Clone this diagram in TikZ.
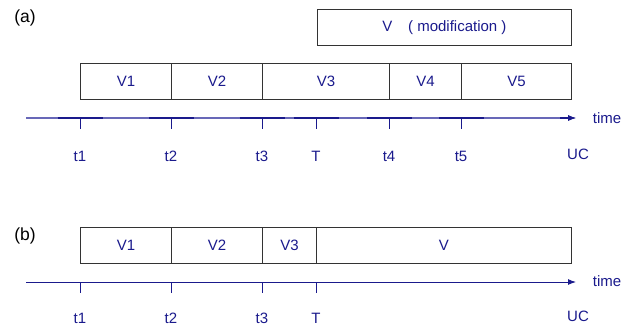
\documentclass[tikz,border=0pt]{standalone}
\usepackage{fontspec}
\setmainfont{Liberation Sans}
\usetikzlibrary{arrows.meta}
\definecolor{navy}{HTML}{1A1A8C}
\definecolor{lnavy}{HTML}{6868B8}
\definecolor{bord}{HTML}{333333}
\begin{document}
\begin{tikzpicture}[x=1pt,y=-1pt,
  seg/.style={draw=bord,line width=0.9pt,minimum height=36pt,inner sep=0pt,font=\fontsize{15}{17}\selectfont,text=navy,anchor=north west},
  tick/.style={draw=navy,line width=0.8pt},
  lab/.style={font=\fontsize{15}{17}\selectfont,text=navy},
  part/.style={font=\fontsize{17.5}{20}\selectfont,text=black},
  axis/.style={line width=1pt,-{Latex[length=8pt,width=6pt]}}]
\useasboundingbox (0,0) rectangle (631,326);
% ---------- (a) ----------
\node[part] (pa) at (25,18) {(a)};
\node[seg,minimum width=254pt] (vm) at (317,9) {V\hspace{1.05em}( modification )};
\node[seg,minimum width=91pt] (a1) at (80,63) {V1};
\node[seg,minimum width=91pt] (a2) at (171,63) {V2};
\node[seg,minimum width=127pt] (a3) at (262,63) {V3};
\node[seg,minimum width=72pt] (a4) at (389,63) {V4};
\node[seg,minimum width=110pt] (a5) at (461,63) {V5};
\coordinate (axa0) at (26,118);
\coordinate (axa1) at (576,118);
\draw[axis,draw=lnavy,fill=navy] (axa0) -- (axa1);
\foreach \x/\n in {80/t1,171/t2,262/t3,316/T,389/t4,461/t5}{
  \draw[navy,line width=1.2pt] (\x-22.5,118) -- (\x+22.5,118);
  \coordinate (ta\n) at (\x,118);
  \draw[tick] (ta\n) -- ++(0,11);
  \node[lab] (la\n) at (\x,156) {\n};
}
\draw[navy,line width=1pt,-{Latex[length=8pt,width=6pt]}] (560,118) -- (axa1);
\node[lab] (timea) at (607,118) {time};
\node[lab] (uca) at (578,154) {UC};
% ---------- (b) ----------
\node[part] (pb) at (25,236) {(b)};
\node[seg,minimum width=91pt] (b1) at (80,227) {V1};
\node[seg,minimum width=91pt] (b2) at (171,227) {V2};
\node[seg,minimum width=54pt] (b3) at (262,227) {V3};
\node[seg,minimum width=255pt] (b4) at (316,227) {V};
\coordinate (axb0) at (26,282);
\coordinate (axb1) at (576,282);
\draw[axis,draw=navy,fill=navy] (axb0) -- (axb1);
\foreach \x/\n in {80/t1,171/t2,262/t3,316/T}{
  \coordinate (tb\n) at (\x,282);
  \draw[tick] (tb\n) -- ++(0,11);
  \node[lab] (lb\n) at (\x,318) {\n};
}
\node[lab] (timeb) at (607,281) {time};
\node[lab] (ucb) at (578,316) {UC};
\end{tikzpicture}
\end{document}
